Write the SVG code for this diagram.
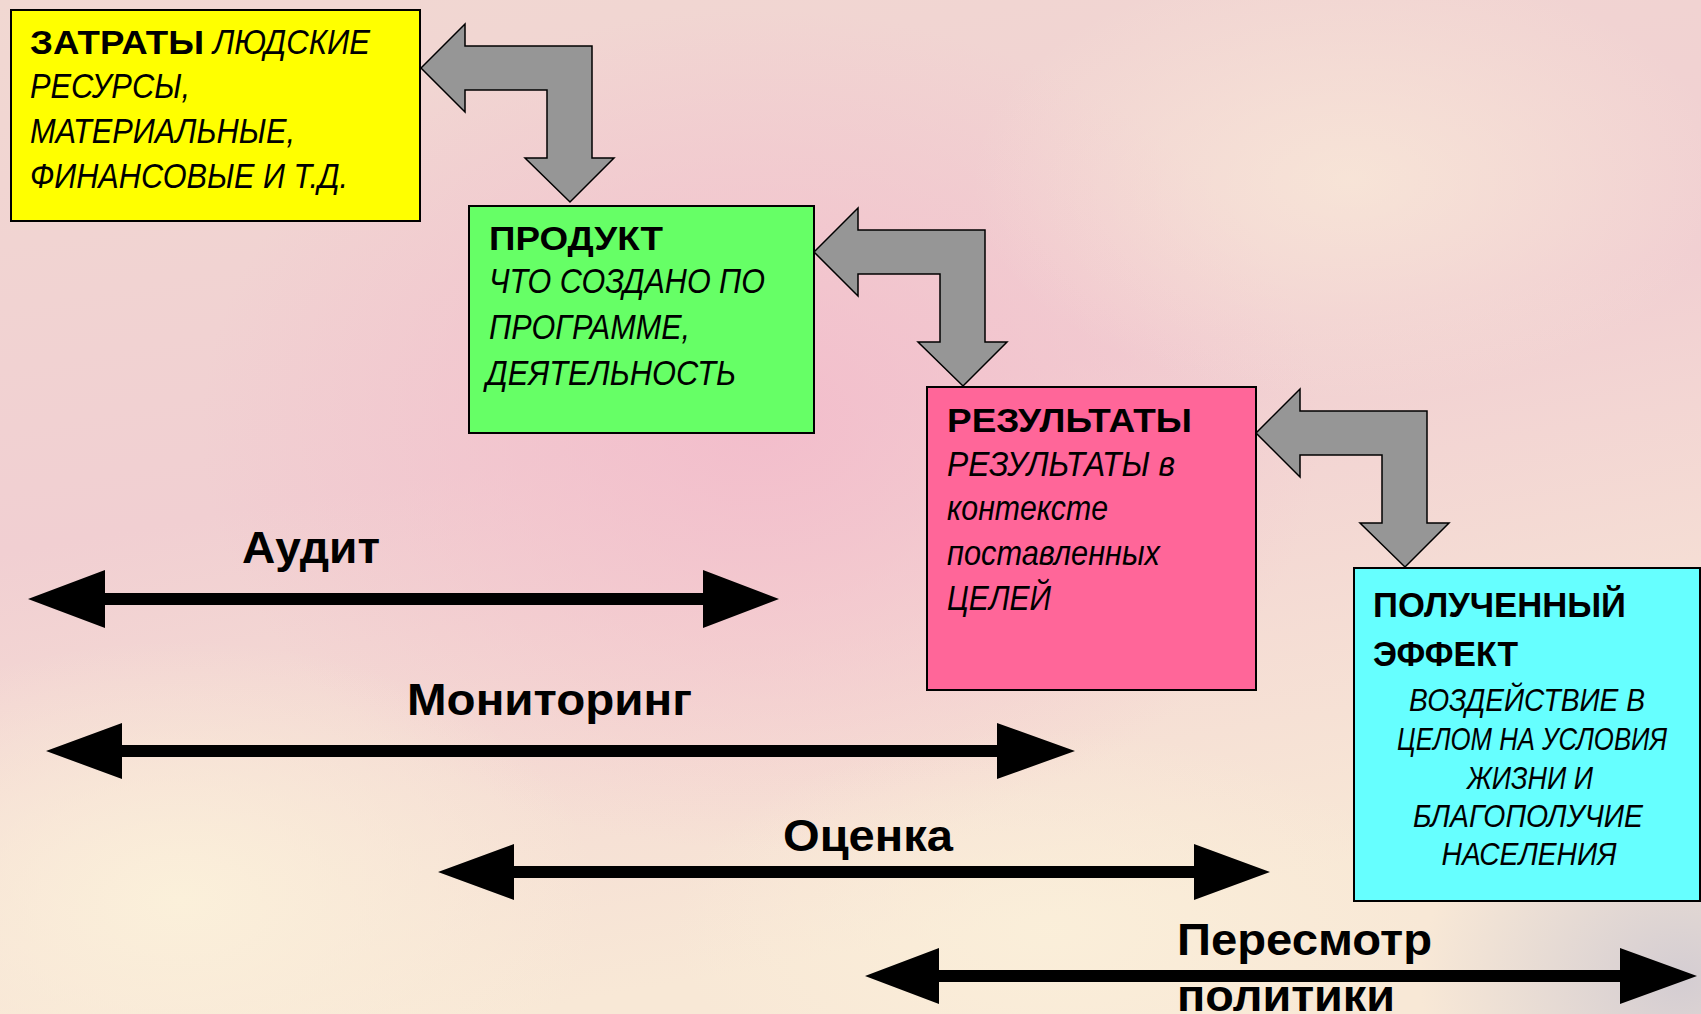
<svg xmlns="http://www.w3.org/2000/svg" width="1701" height="1014" viewBox="0 0 1701 1014">
<defs>
<linearGradient id="bg" x1="0" y1="0" x2="0.3" y2="1">
<stop offset="0" stop-color="#f1d8d2"/>
<stop offset="0.5" stop-color="#f1cfd2"/>
<stop offset="1" stop-color="#f8e8d6"/>
</linearGradient>
<radialGradient id="pinkblob" cx="0.5" cy="0.5" r="0.5">
<stop offset="0" stop-color="#f3bccb" stop-opacity="0.9"/>
<stop offset="1" stop-color="#f3bccb" stop-opacity="0"/>
</radialGradient>
<radialGradient id="creamblob" cx="0.5" cy="0.5" r="0.5">
<stop offset="0" stop-color="#fbf0da" stop-opacity="1"/>
<stop offset="1" stop-color="#fbf0da" stop-opacity="0"/>
</radialGradient>
<radialGradient id="grayblob" cx="0.5" cy="0.5" r="0.5">
<stop offset="0" stop-color="#d4cdd2" stop-opacity="1"/>
<stop offset="1" stop-color="#d4cdd2" stop-opacity="0"/>
</radialGradient>
<path id="bent" d="M0,0 L44,-44 L44,-22 L171,-22 L171,90 L193,90 L149,134 L104,90 L126,90 L126,22 L44,22 L44,44 Z"/>
</defs>
<style>
.box{stroke:#000;stroke-width:2}
.b{font-family:"Liberation Sans",Arial,sans-serif;font-weight:bold;fill:#000}
.i{font-family:"Liberation Sans",Arial,sans-serif;font-style:italic;fill:#000}
.bent{fill:#969696;stroke:#000;stroke-width:1.5;stroke-linejoin:miter}
.dbl{fill:#000}
.lbl{font-family:"Liberation Sans",Arial,sans-serif;font-weight:bold;font-size:44px;fill:#000}
</style>
<rect width="1701" height="1014" fill="url(#bg)"/>
<ellipse cx="760" cy="430" rx="560" ry="420" fill="url(#pinkblob)"/>
<ellipse cx="1350" cy="180" rx="380" ry="220" fill="url(#creamblob)" opacity="0.6"/>
<ellipse cx="180" cy="900" rx="420" ry="260" fill="url(#creamblob)"/>
<ellipse cx="1050" cy="930" rx="380" ry="200" fill="url(#creamblob)" opacity="0.8"/>
<ellipse cx="1680" cy="980" rx="260" ry="220" fill="url(#grayblob)"/>

<g id="connectors">
<use href="#bent" class="bent" transform="translate(421,68)"/>
<use href="#bent" class="bent" transform="translate(814,252)"/>
<use href="#bent" class="bent" transform="translate(1256,433)"/>
<path class="dbl" d="M28,599 L105,570 L105,593 L703,593 L703,570 L779,599 L703,628 L703,605 L105,605 L105,628 Z"/>
<path class="dbl" d="M46,751 L122,723 L122,745 L997,745 L997,723 L1075,751 L997,779 L997,757 L122,757 L122,779 Z"/>
<path class="dbl" d="M438,872 L514,844 L514,866 L1194,866 L1194,844 L1270,872 L1194,900 L1194,878 L514,878 L514,900 Z"/>
<path class="dbl" d="M865,976 L939,948 L939,970 L1620,970 L1620,948 L1697,976 L1620,1004 L1620,982 L939,982 L939,1004 Z"/>
</g>

<g id="label-audit"><text class="lbl" x="242" y="563" textLength="138" lengthAdjust="spacingAndGlyphs">Аудит</text></g>
<g id="label-monitoring"><text class="lbl" x="407" y="715" textLength="285" lengthAdjust="spacingAndGlyphs">Мониторинг</text></g>
<g id="label-evaluation"><text class="lbl" x="783" y="851" textLength="170" lengthAdjust="spacingAndGlyphs">Оценка</text></g>
<g id="label-review">
<text class="lbl" x="1177" y="955" textLength="255" lengthAdjust="spacingAndGlyphs">Пересмотр</text>
<text class="lbl" x="1177" y="1011" textLength="218" lengthAdjust="spacingAndGlyphs">политики</text>
</g>

<g id="node-inputs">
<rect class="box" x="11" y="10" width="409" height="211" fill="#ffff00"/>
<text class="b" x="30" y="54" font-size="34" textLength="174" lengthAdjust="spacingAndGlyphs">ЗАТРАТЫ</text>
<text class="i" x="213" y="54" font-size="35" textLength="157" lengthAdjust="spacingAndGlyphs">ЛЮДСКИЕ</text>
<text class="i" x="30" y="98" font-size="35" textLength="160" lengthAdjust="spacingAndGlyphs">РЕСУРСЫ,</text>
<text class="i" x="30" y="143" font-size="35" textLength="265" lengthAdjust="spacingAndGlyphs">МАТЕРИАЛЬНЫЕ,</text>
<text class="i" x="30" y="188" font-size="35" textLength="318" lengthAdjust="spacingAndGlyphs">ФИНАНСОВЫЕ И Т.Д.</text>
</g>

<g id="node-product">
<rect class="box" x="469" y="206" width="345" height="227" fill="#66ff66"/>
<text class="b" x="489" y="250" font-size="34" textLength="174" lengthAdjust="spacingAndGlyphs">ПРОДУКТ</text>
<text class="i" x="489" y="293" font-size="35" textLength="276" lengthAdjust="spacingAndGlyphs">ЧТО СОЗДАНО ПО</text>
<text class="i" x="489" y="339" font-size="35" textLength="201" lengthAdjust="spacingAndGlyphs">ПРОГРАММЕ,</text>
<text class="i" x="486" y="385" font-size="35" textLength="250" lengthAdjust="spacingAndGlyphs">ДЕЯТЕЛЬНОСТЬ</text>
</g>

<g id="node-results">
<rect class="box" x="927" y="387" width="329" height="303" fill="#ff6699"/>
<text class="b" x="947" y="432" font-size="34" textLength="245" lengthAdjust="spacingAndGlyphs">РЕЗУЛЬТАТЫ</text>
<text class="i" x="947" y="476" font-size="35" textLength="228" lengthAdjust="spacingAndGlyphs">РЕЗУЛЬТАТЫ в</text>
<text class="i" x="947" y="520" font-size="35" textLength="161" lengthAdjust="spacingAndGlyphs">контексте</text>
<text class="i" x="947" y="565" font-size="35" textLength="213" lengthAdjust="spacingAndGlyphs">поставленных</text>
<text class="i" x="947" y="610" font-size="35" textLength="104" lengthAdjust="spacingAndGlyphs">ЦЕЛЕЙ</text>
</g>

<g id="node-impact">
<rect class="box" x="1354" y="568" width="346" height="333" fill="#66ffff"/>
<text class="b" x="1373" y="617" font-size="35" textLength="253" lengthAdjust="spacingAndGlyphs">ПОЛУЧЕННЫЙ</text>
<text class="b" x="1373" y="666" font-size="35" textLength="145" lengthAdjust="spacingAndGlyphs">ЭФФЕКТ</text>
<text class="i" x="1527" y="711" font-size="31" text-anchor="middle" textLength="236" lengthAdjust="spacingAndGlyphs">ВОЗДЕЙСТВИЕ В</text>
<text class="i" x="1532" y="750" font-size="31" text-anchor="middle" textLength="270" lengthAdjust="spacingAndGlyphs">ЦЕЛОМ НА УСЛОВИЯ</text>
<text class="i" x="1530" y="789" font-size="31" text-anchor="middle" textLength="126" lengthAdjust="spacingAndGlyphs">ЖИЗНИ И</text>
<text class="i" x="1528" y="827" font-size="31" text-anchor="middle" textLength="230" lengthAdjust="spacingAndGlyphs">БЛАГОПОЛУЧИЕ</text>
<text class="i" x="1529" y="865" font-size="31" text-anchor="middle" textLength="175" lengthAdjust="spacingAndGlyphs">НАСЕЛЕНИЯ</text>
</g>
</svg>
